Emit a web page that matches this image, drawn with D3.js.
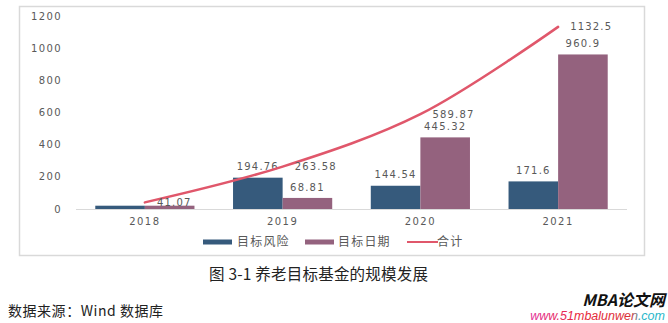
<!DOCTYPE html>
<html><head><meta charset="utf-8">
<script src="https://cdn.jsdelivr.net/npm/d3@7"></script>
<style>body{margin:0;background:#fff}svg{display:block}</style>
</head><body>
<svg id="c" width="668" height="323"></svg>
<script>
const categories = ["2018","2019","2020","2021"];
const riskValues = [20.5, 194.76, 144.54, 171.6];
const dateValues = [20.57, 68.81, 445.32, 960.9];
const totalValues = [41.07, 263.58, 589.87, 1132.5];
const riskLabels = ["", "194.76", "144.54", "171.6"];
const dateLabels = ["", "68.81", "445.32", "960.9"];
const totalLabels = ["41.07", "263.58", "589.87", "1132.5"];
const yTicks = [0, 200, 400, 600, 800, 1000, 1200];
const seriesNames = ["目标风险", "目标日期", "合计"];

const colors = {risk:"#365a7c", date:"#94627e", total:"#e0576b", text:"#595959", axis:"#d9d9d9"};
const svg = d3.select("#c");
const numFont = "DejaVu Sans, sans-serif";
const cjk = "'Noto Sans CJK SC', sans-serif";

// chart border
svg.append("rect").attr("x",19.5).attr("y",6.5).attr("width",625).attr("height",249)
  .attr("fill","#fff").attr("stroke",colors.axis).attr("stroke-width",1.5);

const x = d3.scaleBand().domain(categories).range([76,627]).paddingInner(0.28).paddingOuter(0.14);
const xs = d3.scaleBand().domain(["risk","date"]).range([0,x.bandwidth()]);
const y = d3.scaleLinear().domain([0,1200]).range([209,16]);

// y tick labels
svg.append("g").selectAll("text").data(yTicks).join("text")
  .attr("x",62).attr("y",d=>y(d)).attr("dy","0.36em").attr("text-anchor","end")
  .attr("font-family",numFont).attr("font-size",10).attr("letter-spacing",1.4)
  .attr("fill",colors.text).text(d=>d);

// x axis line
svg.append("line").attr("x1",76).attr("x2",627).attr("y1",209.5).attr("y2",209.5)
  .attr("stroke",colors.axis).attr("stroke-width",1);

// x labels
svg.append("g").selectAll("text").data(categories).join("text")
  .attr("x",d=>x(d)+x.bandwidth()/2).attr("y",221).attr("dy","0.36em").attr("text-anchor","middle")
  .attr("font-family",numFont).attr("font-size",10).attr("letter-spacing",1.4)
  .attr("fill",colors.text).text(d=>d);

// bars
const bars = [
  {key:"risk", vals:riskValues, labels:riskLabels, color:colors.risk},
  {key:"date", vals:dateValues, labels:dateLabels, color:colors.date}
];
bars.forEach(s=>{
  const g = svg.append("g");
  g.selectAll("rect").data(categories).join("rect")
    .attr("x",(d)=>x(d)+xs(s.key)).attr("width",xs.bandwidth())
    .attr("y",(d,i)=>y(s.vals[i])).attr("height",(d,i)=>y(0)-y(s.vals[i]))
    .attr("fill",s.color);
  g.selectAll("text").data(categories).join("text")
    .attr("x",(d)=>x(d)+xs(s.key)+xs.bandwidth()/2).attr("y",(d,i)=>y(s.vals[i])-11)
    .attr("dy","0.36em").attr("text-anchor","middle")
    .attr("font-family",numFont).attr("font-size",10).attr("letter-spacing",1.2)
    .attr("fill",colors.text).text((d,i)=>s.labels[i]);
});

// total line
const cx = d=>x(d)+x.bandwidth()/2;
const line = d3.line().x((d,i)=>cx(categories[i])).y(d=>y(d)).curve(d3.curveCatmullRom.alpha(0.5));
svg.append("path").datum(totalValues).attr("d",line).attr("fill","none")
  .attr("stroke",colors.total).attr("stroke-width",2.5).attr("stroke-linecap","round");
svg.append("g").selectAll("text").data(categories).join("text")
  .attr("x",d=>cx(d)+12).attr("y",(d,i)=>y(totalValues[i])).attr("dy","0.36em")
  .attr("font-family",numFont).attr("font-size",10).attr("letter-spacing",1.2)
  .attr("fill",colors.text).text((d,i)=>totalLabels[i]);

// legend
const lg = svg.append("g");
const legendItems = [
  {name:seriesNames[0], color:colors.risk, type:"bar", x:203, tx:237},
  {name:seriesNames[1], color:colors.date, type:"bar", x:305, tx:338},
  {name:seriesNames[2], color:colors.total, type:"line", x:407, tx:437}
];
legendItems.forEach(it=>{
  if(it.type==="bar") lg.append("rect").attr("x",it.x).attr("y",239.5).attr("width",29).attr("height",5).attr("fill",it.color);
  else lg.append("line").attr("x1",it.x).attr("x2",it.x+31).attr("y1",242).attr("y2",242).attr("stroke",it.color).attr("stroke-width",2);
  lg.append("text").attr("x",it.tx).attr("y",242).attr("dy","0.36em")
    .attr("font-family",cjk).attr("font-size",12).attr("letter-spacing",1.2)
    .attr("fill",colors.text).text(it.name);
});

// caption
svg.append("text").attr("x",209).attr("y",274).attr("dy","0.36em")
  .attr("font-family",cjk).attr("font-size",15.5).attr("fill","#222")
  .attr("textLength",219).attr("lengthAdjust","spacing")
  .text("图 3-1 养老目标基金的规模发展");
svg.append("text").attr("x",8).attr("y",311).attr("dy","0.36em")
  .attr("font-family",cjk).attr("font-size",14).attr("fill","#222")
  .attr("textLength",155).attr("lengthAdjust","spacing")
  .text("数据来源：Wind 数据库");

// watermark
const defs = svg.append("defs");
const grad = defs.append("linearGradient").attr("id","wm").attr("x1","0").attr("x2","1").attr("y1","0").attr("y2","0");
grad.append("stop").attr("offset","0").attr("stop-color","#e0339a");
grad.append("stop").attr("offset","0.35").attr("stop-color","#e8283c");
grad.append("stop").attr("offset","0.75").attr("stop-color","#d8343c");
grad.append("stop").attr("offset","0.82").attr("stop-color","#2bb5c8");
grad.append("stop").attr("offset","1").attr("stop-color","#2bb5c8");
svg.append("text").attr("x",665).attr("y",306).attr("text-anchor","end")
  .attr("font-family",cjk).attr("font-size",16).attr("font-weight","bold").attr("font-style","italic")
  .attr("fill","#111").text("MBA论文网");
svg.append("text").attr("x",665).attr("y",320).attr("text-anchor","end")
  .attr("font-family","Liberation Sans, Arial, sans-serif").attr("font-size",12.5).attr("font-style","italic")
  .attr("fill","url(#wm)").text("www.51mbalunwen.com");
</script>
</body></html>
